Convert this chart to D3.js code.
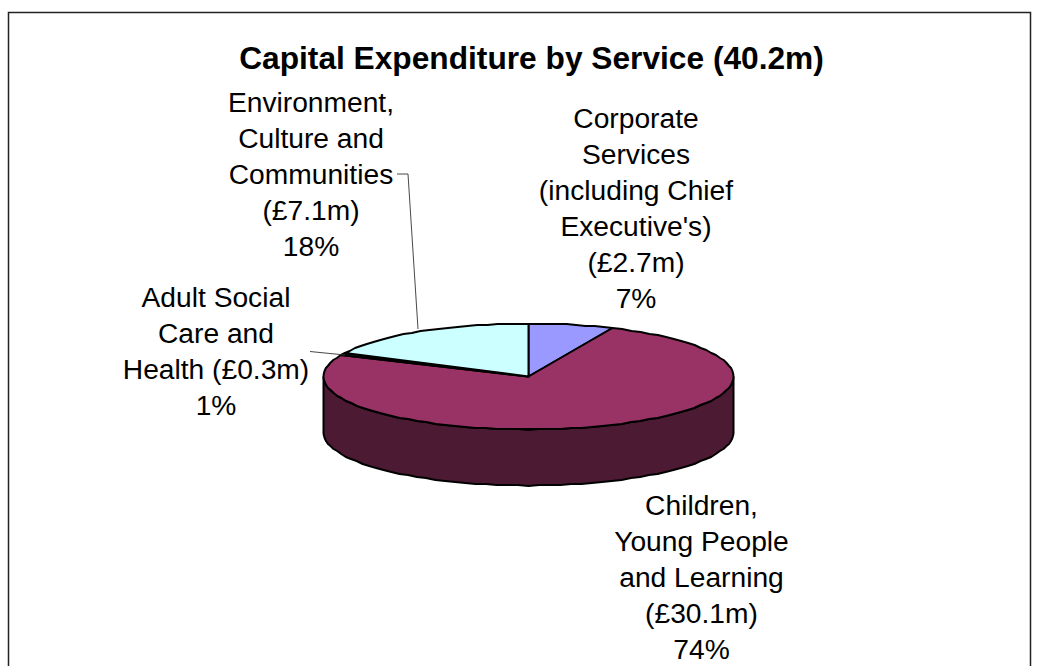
<!DOCTYPE html>
<html><head><meta charset="utf-8">
<script src="https://cdnjs.cloudflare.com/ajax/libs/d3/7.8.5/d3.min.js"></script>
<style>html,body{margin:0;padding:0;background:#fff}svg{display:block}text{font-family:"Liberation Sans",Arial,sans-serif;fill:#000}</style>
</head><body><div id="c"></div>
<script>
const title = "Capital Expenditure by Service (40.2m)";
const categories = ["Corporate Services (including Chief Executive's)","Children, Young People and Learning","Adult Social Care and Health","Environment, Culture and Communities"];
const values = [2.7,30.1,0.3,7.1];
const topColors = ["#9999ff","#993366","#1f3b24","#ccffff"];
const sideColors = ["#4c4c80","#4d1a33","#101e12","#668080"];
const labelLines = [
 ["Corporate","Services","(including Chief","Executive's)","(£2.7m)","7%"],
 ["Children,","Young People","and Learning","(£30.1m)","74%"],
 ["Adult Social","Care and","Health (£0.3m)","1%"],
 ["Environment,","Culture and","Communities","(£7.1m)","18%"]
];
const labelPos = [[636,128],[701.5,514.5],[216,307],[311,112]];
const leaders = [null,null,[[310,351.5],[345,355]],[[397,174],[408,174],[418,329]]];

const W=1038,H=666;
const svg=d3.select("#c").append("svg").attr("width",W).attr("height",H);
svg.append("path").attr("d",`M8.5,${H}V12.5H1030.5V${H}`).attr("fill","none").attr("stroke","#222").attr("stroke-width",1.5);
svg.append("text").attr("x",531.5).attr("y",69).attr("text-anchor","middle").attr("font-weight","bold").attr("font-size",31.7).text(title);

const cx=528.5,cy=376.5,rx=205,ry=53,depth=56;
const xS=d3.scaleLinear().domain([-1,1]).range([cx-rx,cx+rx]);
const yS=d3.scaleLinear().domain([-1,1]).range([cy-ry,cy+ry]);
const arcs=d3.pie().sort(null).value(d=>d)(values);
const STEP=Math.PI/60;
const rim=(a0,a1)=>{const n=Math.max(1,Math.ceil((a1-a0)/STEP));return d3.range(n+1).map(i=>{const a=a0+(a1-a0)*i/n;return [xS(Math.sin(a)),Math.round(yS(-Math.cos(a)))];});};
const line=d3.line().curve(d3.curveLinear);

// sides (front half only)
arcs.forEach((a,i)=>{
  const s=Math.max(a.startAngle,Math.PI/2),e=Math.min(a.endAngle,Math.PI*1.5);
  if(e<=s)return;
  const t=rim(s,e),b=t.slice().reverse().map(p=>[p[0],p[1]+depth]);
  svg.append("path").attr("d",line(t.concat(b))+"Z").attr("fill",sideColors[i]).attr("stroke","#000").attr("stroke-width",2).attr("stroke-linejoin","round");
});
// top faces
arcs.forEach((a,i)=>{
  const pts=[[xS(0),yS(0)]].concat(rim(a.startAngle,a.endAngle));
  svg.append("path").attr("d",line(pts)+"Z").attr("fill",topColors[i]).attr("stroke","#000").attr("stroke-width",2).attr("stroke-linejoin","round");
});
// leaders
leaders.forEach(l=>{if(l)svg.append("path").attr("d",line(l)).attr("fill","none").attr("stroke","#333").attr("stroke-width",0.9);});
// labels
labelLines.forEach((ls,i)=>{
  const t=svg.append("text").attr("text-anchor","middle").attr("font-size",28.2);
  ls.forEach((s,j)=>t.append("tspan").attr("x",labelPos[i][0]).attr("y",labelPos[i][1]+j*36).text(s));
});
</script></body></html>
